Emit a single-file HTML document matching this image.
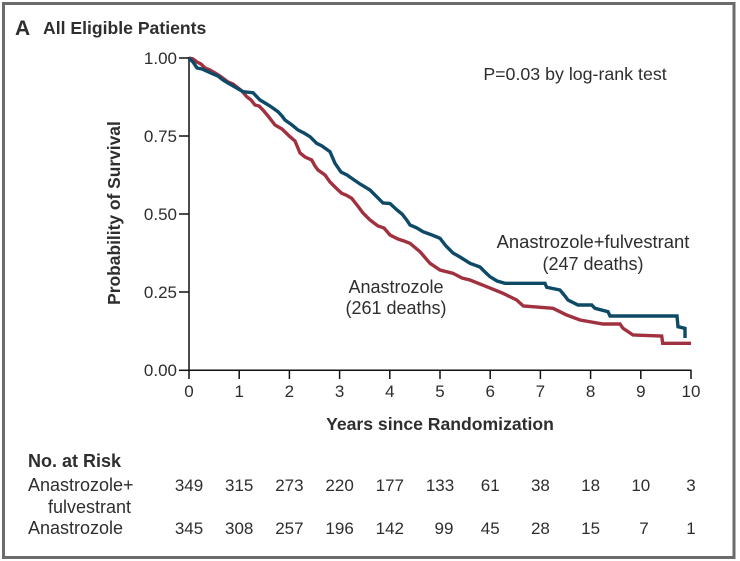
<!DOCTYPE html>
<html><head><meta charset="utf-8"><style>
html,body{margin:0;padding:0;background:#fff;}
svg{display:block;}
text{font-family:"Liberation Sans",sans-serif;fill:#2e2e2e;}
</style></head><body>
<svg width="740" height="561" viewBox="0 0 740 561" xmlns="http://www.w3.org/2000/svg">
<rect x="0" y="0" width="740" height="561" fill="#fff"/>
<rect x="3.5" y="3.5" width="730.5" height="554" fill="none" stroke="#6b6b6b" stroke-width="3"/>

<text x="15" y="35" font-size="21" font-weight="bold" fill="#1a1a1a">A</text>
<text x="43" y="34" font-size="17.6" font-weight="bold" fill="#1a1a1a">All Eligible Patients</text>

<!-- axes -->
<line x1="189" y1="57" x2="189" y2="371" stroke="#111" stroke-width="1.5"/>
<line x1="188.3" y1="370.3" x2="691.5" y2="370.3" stroke="#111" stroke-width="1.5"/>
<g stroke="#111" stroke-width="1.5">
<line x1="179" y1="58" x2="189" y2="58"/>
<line x1="179" y1="136" x2="189" y2="136"/>
<line x1="179" y1="214" x2="189" y2="214"/>
<line x1="179" y1="292" x2="189" y2="292"/>
<line x1="179" y1="370.3" x2="189" y2="370.3"/>
<line x1="189" y1="370" x2="189" y2="379"/>
<line x1="239.2" y1="370" x2="239.2" y2="379"/>
<line x1="289.4" y1="370" x2="289.4" y2="379"/>
<line x1="339.6" y1="370" x2="339.6" y2="379"/>
<line x1="389.8" y1="370" x2="389.8" y2="379"/>
<line x1="440" y1="370" x2="440" y2="379"/>
<line x1="490.2" y1="370" x2="490.2" y2="379"/>
<line x1="540.4" y1="370" x2="540.4" y2="379"/>
<line x1="590.6" y1="370" x2="590.6" y2="379"/>
<line x1="640.8" y1="370" x2="640.8" y2="379"/>
<line x1="691" y1="370" x2="691" y2="379"/>
</g>
<g font-size="17" text-anchor="end">
<text x="177" y="64">1.00</text>
<text x="177" y="142">0.75</text>
<text x="177" y="220">0.50</text>
<text x="177" y="298">0.25</text>
<text x="177" y="376">0.00</text>
</g>
<g font-size="17" text-anchor="middle">
<text x="189" y="397">0</text>
<text x="239.2" y="397">1</text>
<text x="289.4" y="397">2</text>
<text x="339.6" y="397">3</text>
<text x="389.8" y="397">4</text>
<text x="440" y="397">5</text>
<text x="490.2" y="397">6</text>
<text x="540.4" y="397">7</text>
<text x="590.6" y="397">8</text>
<text x="640.8" y="397">9</text>
<text x="691" y="397">10</text>
</g>

<text transform="translate(120,213) rotate(-90)" font-size="17.4" font-weight="bold" text-anchor="middle" fill="#1a1a1a">Probability of Survival</text>
<text x="440" y="430" font-size="17.6" font-weight="bold" text-anchor="middle" fill="#1a1a1a">Years since Randomization</text>

<text x="575" y="80" font-size="17.8" text-anchor="middle">P=0.03 by log-rank test</text>
<text x="593" y="248" font-size="18.4" text-anchor="middle">Anastrozole+fulvestrant</text>
<text x="593" y="270" font-size="18" text-anchor="middle">(247 deaths)</text>
<text x="396" y="293" font-size="18" text-anchor="middle">Anastrozole</text>
<text x="396" y="314" font-size="18" text-anchor="middle">(261 deaths)</text>

<!-- curves -->
<polyline fill="none" stroke="#a1313f" stroke-width="3.4" stroke-linejoin="miter" points="189,58 193,59 197,62 201,64 205,68 210,70 215,73 220,76 228,82 233,84 238,88 242,91 246.7,96.7 251,100 255,105 259,106 263,110 268,116 275,125 282,129 290,136.7 295,141 300,153 305,157 311.7,160 315,166 318,170 325,175 330,182 336,188 341.7,193.3 346,195 351.7,198.3 357,205 363,213 370,220 378,226 384,228 390,235 398,239 404,241 410,243.3 420,251.7 430,263.3 440,270 453,273.3 462,278 470,280 486.7,286.7 503,293.3 516.7,300 523.3,306 553,308.3 566.7,315 580,320 603,324 620,324 623,328.3 633,335 661.7,336 662.7,343.3 691,343.3"/>
<polyline fill="none" stroke="#0e4a66" stroke-width="3.4" stroke-linejoin="miter" points="189,58 193,62 197,68 202,69 208,71.7 213,74 218,76 223,80 228,83 235,87 243,91.7 253,92.7 260,100 265,103 270,106 278,111.7 282,116 285,120 292,125 298,130 304,133 310,136.7 316.7,143.3 322,146 330,151.7 335,163.3 341,172 347,175 352,178.5 360,184 370,190 376,196 383,203 390,203.5 397,210 402,214 406.7,220 410,225 417,228 423,231.7 432,235 440,238.3 446,246 453,253 460,257 470,263.3 480,267 485,272 490,276.7 497,281 505,283.3 545,283.3 546.7,287.3 560,290 565,296 568,300 578,305 591.7,305 595,308.3 608,311.7 610,316 677,316 678,326.7 685,328.3 685,338"/>

<!-- risk table -->
<text x="28" y="467" font-size="18" font-weight="bold" fill="#1a1a1a">No. at Risk</text>
<g font-size="18">
<text x="28" y="491">Anastrozole+</text>
<text x="48" y="513">fulvestrant</text>
<text x="28" y="534">Anastrozole</text>
</g>
<g font-size="17" text-anchor="middle">
<text x="189" y="491">349</text>
<text x="239.2" y="491">315</text>
<text x="289.4" y="491">273</text>
<text x="339.6" y="491">220</text>
<text x="389.8" y="491">177</text>
<text x="440" y="491">133</text>
<text x="490.2" y="491">61</text>
<text x="540.4" y="491">38</text>
<text x="590.6" y="491">18</text>
<text x="640.8" y="491">10</text>
<text x="691" y="491">3</text>
<text x="189" y="534">345</text>
<text x="239.2" y="534">308</text>
<text x="289.4" y="534">257</text>
<text x="339.6" y="534">196</text>
<text x="389.8" y="534">142</text>
<text x="444" y="534">99</text>
<text x="490.2" y="534">45</text>
<text x="540.4" y="534">28</text>
<text x="590.6" y="534">15</text>
<text x="644" y="534">7</text>
<text x="691" y="534">1</text>
</g>
</svg>
</body></html>
